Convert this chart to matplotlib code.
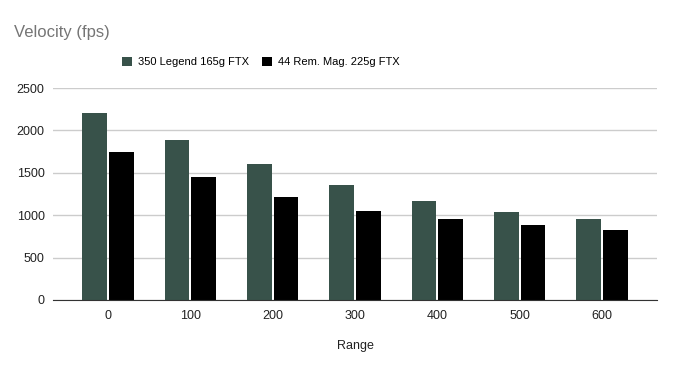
import numpy as np
import matplotlib.pyplot as plt

plt.rcParams['font.family'] = ['Liberation Sans', 'DejaVu Sans']

# Данные
ranges = ['0', '100', '200', '300', '400', '500', '600']
legend_350 = [2200, 1890, 1605, 1355, 1165, 1040, 955]
rem_mag_44 = [1745, 1450, 1215, 1050, 955, 885, 825]
series_names = ['350 Legend 165g FTX', '44 Rem. Mag. 225g FTX']

fig = plt.figure(figsize=(6.76, 3.71), dpi=100)
ax = fig.add_axes([0.0784, 0.1914, 0.8936, 0.5714])

x = np.arange(len(ranges))
w = 0.30
ax.bar(x - w / 2 - 0.012, legend_350, w, color='#38524a', label=series_names[0])
ax.bar(x + w / 2 + 0.012, rem_mag_44, w, color='#000000', label=series_names[1])

ax.set_xlim(-0.67, len(ranges) - 0.33)
ax.set_ylim(0, 2500)
ax.set_yticks(range(0, 2501, 500))
ax.set_xticks(x)
ax.set_xticklabels(ranges)
ax.grid(axis='y', color='#cccccc', linewidth=1)
ax.set_axisbelow(True)
for s in ['top', 'right', 'left']:
    ax.spines[s].set_visible(False)
ax.spines['bottom'].set_color('#333333')
ax.tick_params(length=0, labelsize=9, colors='#222222', pad=6)
ax.tick_params(axis='x', pad=7)
ax.set_xlabel('Range', fontsize=9, color='#222222', labelpad=13)

fig.text(0.021, 0.912, 'Velocity (fps)', fontsize=12, color='#757575', va='center')
fig.legend(loc='center', bbox_to_anchor=(0.386, 0.833), ncol=2, frameon=False,
           fontsize=8, handlelength=0.9, handleheight=0.9, columnspacing=1.2,
           handletextpad=0.5)

fig.savefig('out.png', dpi=100, facecolor='white')
